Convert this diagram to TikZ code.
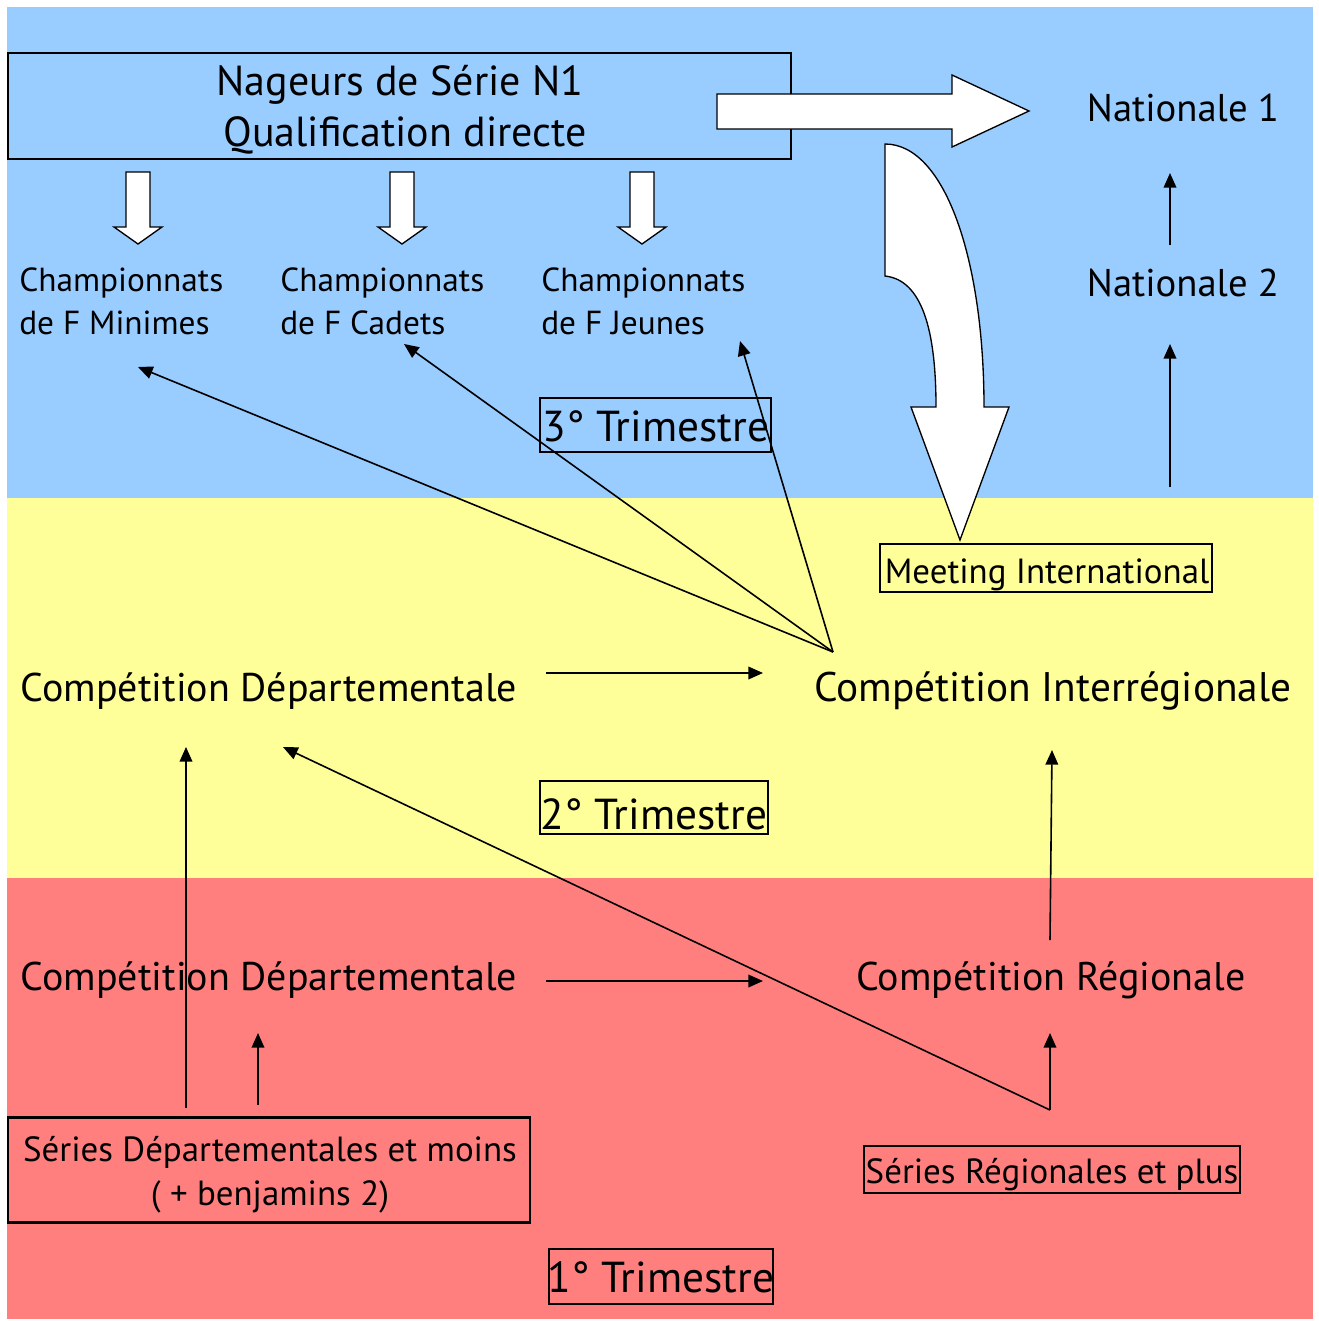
\documentclass[tikz,border=0pt]{standalone}
\usepackage{fontspec}
\setmainfont{PT Sans}
\usetikzlibrary{arrows.meta}
\definecolor{bandblue}{HTML}{99CCFF}
\definecolor{bandyellow}{HTML}{FFFF99}
\definecolor{bandred}{HTML}{FF7F7F}
\begin{document}
\begin{tikzpicture}[x=0.75pt,y=-0.75pt,
  big/.style={inner sep=0, font=\fontsize{29pt}{34pt}\selectfont},
  comp/.style={inner sep=0, font=\fontsize{30pt}{34pt}\selectfont},
  mid/.style={inner sep=0, font=\fontsize{31.5pt}{36pt}\selectfont},
  champ/.style={inner sep=0, font=\fontsize{25pt}{29pt}\selectfont},
  trim/.style={inner sep=0, font=\fontsize{32.5pt}{37pt}\selectfont},
  small/.style={inner sep=0, font=\fontsize{26.2pt}{30pt}\selectfont},
  frame/.style={draw, line width=2pt, inner sep=0},
  thinframe/.style={draw, line width=1.6pt, inner sep=0},
  arr/.style={line width=1.2pt, -{Triangle[length=11pt,width=9.5pt]}},
  blockarrow/.style={draw, fill=white, line width=1pt, line join=miter}]
\useasboundingbox (0,0) rectangle (1319,1321);
% bands
\fill[white] (0,0) rectangle (1319,1321);
\fill[bandblue] (7,7) rectangle (1313,498);
\fill[bandyellow] (7,498) rectangle (1313,878);
\fill[bandred] (7,878) rectangle (1313,1319);

% top box
\node[frame, minimum width={783*0.75pt}, minimum height={106*0.75pt}] (topbox) at (399.5,106) {};
\node[mid, anchor=base] (nag) at (400,95) {Nageurs de Série N1};
\node[mid, anchor=base] (qual) at (405,146) {Qualification directe};

% block arrows
\draw[blockarrow] (717,94) -- (952,94) -- (952,75) -- (1029,111) -- (952,147) -- (952,129) -- (717,129) -- cycle;
\foreach \cx in {138,402,642}{
  \draw[blockarrow] (\cx-12,172) -- (\cx+12,172) -- (\cx+12,227) -- (\cx+24,227) -- (\cx,244) -- (\cx-24,227) -- (\cx-12,227) -- cycle;
}
\draw[blockarrow] (885,144) -- (885,276) .. controls (922,280) and (936,330) .. (936,407)
  -- (911,407) -- (960,540) -- (1009,407) -- (984,407)
  .. controls (984,260) and (945,144) .. (885,144) -- cycle;

% Nationale
\node[big, anchor=base] (nat1) at (1183,121) {Nationale 1};
\node[big, anchor=base] (nat2) at (1183,296) {Nationale 2};

% Championnats
\node[champ, anchor=base west] (chmin) at (19,291) {Championnats};
\node[champ, anchor=base west] (chmin2) at (19,334) {de F Minimes};
\node[champ, anchor=base west] (chcad) at (280,291) {Championnats};
\node[champ, anchor=base west] (chcad2) at (280,334) {de F Cadets};
\node[champ, anchor=base west] (chjeu) at (541,291) {Championnats};
\node[champ, anchor=base west] (chjeu2) at (541,334) {de F Jeunes};

% Trimestre boxes
\node[frame, minimum width={231*0.75pt}, minimum height={54*0.75pt}] (b3) at (655.5,425) {};
\node[trim, anchor=base] (t3) at (656,441) {3° Trimestre};
\node[thinframe, minimum width={228*0.75pt}, minimum height={53*0.75pt}] (b2) at (654,807.5) {};
\node[trim, anchor=base] (t2) at (654,829) {2° Trimestre};
\node[frame, minimum width={224*0.75pt}, minimum height={55*0.75pt}] (b1) at (661,1276.5) {};
\node[trim, anchor=base] (t1) at (661,1292) {1° Trimestre};

% Meeting
\node[frame, minimum width={332*0.75pt}, minimum height={48*0.75pt}] (bm) at (1046,568) {};
\node[small, anchor=base] (meet) at (1047,583) {Meeting International};

% Compétitions
\node[comp, anchor=base] (cdy) at (269,701) {Compétition Départementale};
\node[comp, font=\fontsize{31pt}{35pt}\selectfont, anchor=base] (cir) at (1053,701) {Compétition Interrégionale};
\node[comp, anchor=base] (cdr) at (269,990) {Compétition Départementale};
\node[comp, anchor=base] (creg) at (1051,990) {Compétition Régionale};

% Séries
\node[frame, minimum width={522*0.75pt}, minimum height={105*0.75pt}] (bsd) at (269,1170) {};
\node[small, anchor=base] (sd1) at (270,1161) {Séries Départementales et moins};
\node[small, anchor=base] (sd2) at (270,1205) {( + benjamins 2)};
\node[frame, minimum width={376*0.75pt}, minimum height={47*0.75pt}] (bsr) at (1052,1169.5) {};
\node[small, anchor=base] (sr) at (1052,1183) {Séries Régionales et plus};

% connector points
\coordinate (ci) at (833,652);
\coordinate (tmin) at (138,367);
\coordinate (tcad) at (404,344);
\coordinate (tjeu) at (740,341);
\coordinate (dya) at (546,673);
\coordinate (dyb) at (763,673);
\coordinate (dra) at (546,981);
\coordinate (drb) at (763,981);
\coordinate (sva) at (186,1108);
\coordinate (svb) at (186,747);
\coordinate (ssa) at (258,1105);
\coordinate (ssb) at (258,1033);
\coordinate (rga) at (1050,1110);
\coordinate (rgb) at (1050,1033);
\coordinate (dtip) at (283,747);
\coordinate (ria) at (1050,940);
\coordinate (rib) at (1052,750);
\coordinate (n2a) at (1170,487);
\coordinate (n2b) at (1170,344);
\coordinate (n1a) at (1170,245);
\coordinate (n1b) at (1170,173);

\draw[arr] (ci) -- (tmin);
\draw[arr] (ci) -- (tcad);
\draw[arr] (ci) -- (tjeu);
\draw[arr] (dya) -- (dyb);
\draw[arr] (dra) -- (drb);
\draw[arr] (sva) -- (svb);
\draw[arr] (ssa) -- (ssb);
\draw[arr] (rga) -- (rgb);
\draw[arr] (rga) -- (dtip);
\draw[arr] (ria) -- (rib);
\draw[arr] (n2a) -- (n2b);
\draw[arr] (n1a) -- (n1b);
\end{tikzpicture}
\end{document}
